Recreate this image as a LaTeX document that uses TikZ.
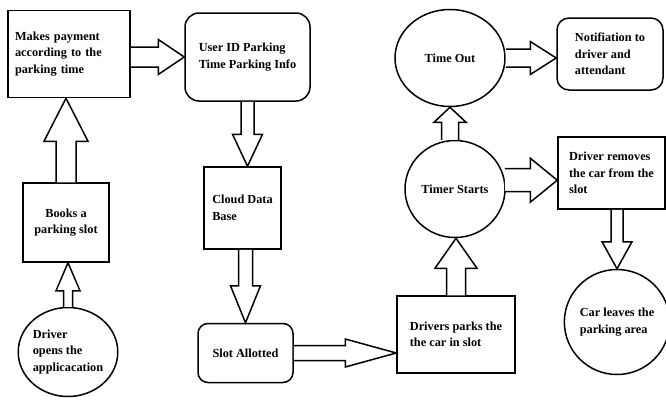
\documentclass[tikz,border=0pt]{standalone}
\usepackage{fontspec}
\setmainfont{Liberation Serif}
\usetikzlibrary{calc, shapes.geometric}
\tikzset{
  flowbox/.style={draw, line width=1.5pt, rectangle, align=left, inner sep=2pt},
  flowround/.style={flowbox, rounded corners=12pt},
  flowcircle/.style={draw, line width=1.5pt, ellipse, align=left, inner sep=0pt},
  blockarrow/.style={draw, line width=1.5pt, line join=miter, fill=white}
}
% hollow arrow: from, to, shaft half width, head half width, head length
\newcommand{\blockarrow}[5]{%
  \coordinate (ba-h) at ($(#2)!#5!(#1)$);
  \draw[blockarrow] ($(#1)!#3!90:(#2)$) -- ($(ba-h)!#3!-90:(#1)$)
    -- ($(ba-h)!#4!-90:(#1)$) -- (#2) -- ($(ba-h)!#4!90:(#1)$)
    -- ($(ba-h)!#3!90:(#1)$) -- ($(#1)!#3!-90:(#2)$);}

\begin{document}
\begin{tikzpicture}[x=1pt, y=-1pt, font=\bfseries\fontsize{12.3}{16.5}\selectfont]
  \useasboundingbox (0,0) rectangle (666,399);

  % left column
  \node[flowbox, minimum width=122pt, minimum height=87pt, text width=108pt, inner xsep=7pt] (pay) at (69,54)
    {Makes payment\\according to the\\parking time};
  \node[flowbox, align=center, minimum width=86pt, minimum height=79pt] (books) at (66,222.5)
    {Books a\\parking slot};
  \node[flowcircle, minimum width=84pt, minimum height=89pt] (driver) at (68,352)
    {Driver\\opens the\\applicacation};

  % middle column
  \node[flowround, rounded corners=14pt, minimum width=125pt, minimum height=88pt] (uid) at (247.5,57)
    {User ID Parking\\Time Parking Info};
  \node[flowbox, minimum width=77pt, minimum height=82pt] (cloud) at (242.5,208)
    {Cloud Data\\Base};
  \node[flowround, rounded corners=10pt, minimum width=95pt, minimum height=59pt] (slot) at (245.5,353)
    {Slot Allotted};
  \node[flowbox, minimum width=118pt, minimum height=77pt] (parks) at (456,334.5)
    {Drivers parks the\\the car in slot};

  % timer column
  \node[flowcircle, minimum width=100pt, minimum height=97pt] (timer) at (455,189) {Timer Starts};
  \node[flowcircle, minimum width=110pt, minimum height=97pt] (timeout) at (450,58) {Time Out};

  % right column
  \node[flowround, minimum width=106pt, minimum height=72pt] (notif) at (610,54)
    {Notifiation to\\driver and\\attendant};
  \node[flowbox, minimum width=107pt, minimum height=72pt] (removes) at (611.5,173)
    {Driver removes\\the car from the\\slot};
  \node[flowcircle, minimum width=92pt, minimum height=105pt] (carleave) at (617,322)
    {Car leaves the\\parking area};

  % connectors
  \blockarrow{driver.north}{driver.north |- books.south}{4.5pt}{12pt}{28pt}
  \blockarrow{books.north}{books.north |- pay.south}{10pt}{22pt}{43pt}
  \blockarrow{uid.west -| pay.east}{uid.west}{10pt}{17.5pt}{26pt}
  \blockarrow{uid.south}{uid.south |- cloud.north}{6.5pt}{15pt}{32pt}
  \blockarrow{slot.north |- cloud.south}{slot.north}{7pt}{15pt}{37pt}
  \blockarrow{slot.east}{parks.west |- slot.east}{7.5pt}{14pt}{51pt}
  \blockarrow{parks.north}{parks.north |- timer.south}{9.5pt}{21pt}{30pt}
  \blockarrow{timeout.south |- timer.north}{timeout.south}{8.5pt}{16pt}{15pt}
  \blockarrow{timeout.east}{notif.west |- timeout.east}{9pt}{16.5pt}{26pt}
  \blockarrow{timer.10}{removes.west |- timer.10}{11.5pt}{22pt}{27pt}
  \blockarrow{carleave.north |- removes.south}{carleave.north}{6pt}{15pt}{27pt}
\end{tikzpicture}
\end{document}
